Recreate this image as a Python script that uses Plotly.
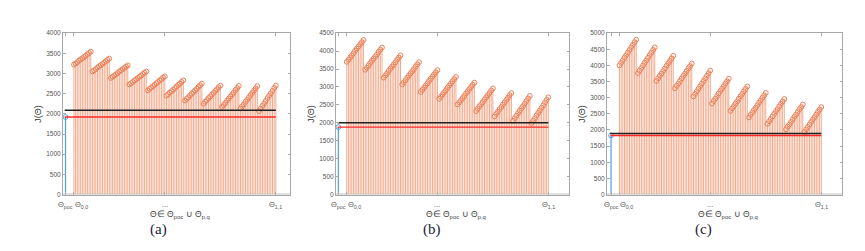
import plotly.graph_objects as go

# ---------------- data ----------------
tick_text = ["Θ<sub>poc</sub>", "Θ<sub>0,0</sub>", "...", "Θ<sub>1,1</sub>"]
panel_labels = ["(a)", "(b)", "(c)"]

j_a = [3220, 3250, 3280, 3320, 3350, 3380, 3410, 3440, 3480, 3510, 3540,
       3050, 3080, 3110, 3150, 3180, 3210, 3240, 3270, 3310, 3340, 3370,
       2890, 2920, 2950, 2980, 3010, 3050, 3080, 3110, 3140, 3170, 3200,
       2730, 2760, 2790, 2830, 2860, 2890, 2920, 2950, 2990, 3020, 3050,
       2580, 2620, 2650, 2690, 2720, 2760, 2790, 2830, 2860, 2900, 2930,
       2450, 2490, 2530, 2560, 2600, 2640, 2680, 2720, 2750, 2790, 2830,
       2330, 2370, 2410, 2460, 2500, 2540, 2580, 2620, 2670, 2710, 2750,
       2250, 2300, 2340, 2390, 2430, 2480, 2520, 2570, 2610, 2660, 2700,
       2170, 2220, 2270, 2330, 2380, 2430, 2480, 2530, 2590, 2640, 2690,
       2130, 2190, 2240, 2300, 2350, 2410, 2470, 2520, 2580, 2630, 2690,
       2070, 2130, 2200, 2260, 2320, 2390, 2450, 2510, 2570, 2640, 2700]
poc_a = 1920
ref_a = 2090
min_a = 1920

j_b = [3700, 3760, 3820, 3880, 3940, 4010, 4070, 4130, 4190, 4250, 4310,
       3480, 3540, 3600, 3670, 3730, 3790, 3850, 3910, 3980, 4040, 4100,
       3260, 3320, 3380, 3450, 3510, 3570, 3630, 3690, 3760, 3820, 3880,
       3070, 3130, 3190, 3260, 3320, 3380, 3440, 3500, 3570, 3630, 3690,
       2860, 2920, 2980, 3040, 3100, 3170, 3230, 3290, 3350, 3410, 3470,
       2670, 2730, 2790, 2850, 2910, 2980, 3040, 3100, 3160, 3220, 3280,
       2510, 2570, 2630, 2690, 2750, 2820, 2880, 2940, 3000, 3060, 3120,
       2330, 2390, 2460, 2520, 2580, 2650, 2710, 2770, 2830, 2900, 2960,
       2180, 2250, 2310, 2380, 2440, 2510, 2570, 2640, 2700, 2770, 2830,
       2060, 2130, 2200, 2270, 2340, 2410, 2470, 2540, 2610, 2680, 2750,
       1990, 2060, 2130, 2210, 2280, 2350, 2420, 2490, 2570, 2640, 2710]
poc_b = 1880
ref_b = 2000
min_b = 1880

j_c = [4000, 4080, 4160, 4240, 4320, 4400, 4480, 4560, 4640, 4720, 4800,
       3760, 3840, 3920, 4000, 4080, 4160, 4240, 4320, 4400, 4480, 4560,
       3520, 3600, 3680, 3750, 3830, 3910, 3990, 4070, 4140, 4220, 4300,
       3290, 3370, 3440, 3520, 3600, 3680, 3750, 3830, 3910, 3980, 4060,
       3040, 3120, 3200, 3280, 3360, 3440, 3520, 3600, 3680, 3760, 3840,
       2820, 2900, 2970, 3050, 3130, 3210, 3280, 3360, 3440, 3510, 3590,
       2590, 2670, 2740, 2820, 2890, 2970, 3050, 3120, 3200, 3270, 3350,
       2390, 2470, 2540, 2620, 2690, 2770, 2850, 2920, 3000, 3070, 3150,
       2190, 2270, 2340, 2420, 2500, 2580, 2650, 2730, 2810, 2880, 2960,
       2020, 2100, 2170, 2250, 2330, 2410, 2480, 2560, 2640, 2710, 2790,
       1940, 2020, 2090, 2170, 2250, 2330, 2400, 2480, 2560, 2630, 2710]
poc_c = 1830
ref_c = 1890
min_c = 1830

y_max = [4000, 4500, 5000]

# ---------------- layout geometry ----------------
W, H = 865, 251
panels = [
    dict(j=j_a, poc=poc_a, ref=ref_a, mn=min_a, px=(63, 290), xr=(-0.5, 134.4)),
    dict(j=j_b, poc=poc_b, ref=ref_b, mn=min_b, px=(336, 569), xr=(-0.4, 138.3)),
    dict(j=j_c, poc=poc_c, ref=ref_c, mn=min_c, px=(607, 842), xr=(-1.4, 138.3)),
]
y_top, y_bot = 30, 196
ydom = [1 - y_bot / H, 1 - y_top / H]

POC_X = 1
FIRST_X = 6
MID_X = 60

STEM = "rgb(243,170,140)"
MARK = "rgb(238,128,88)"
BLUE = "rgb(77,163,222)"
AXC = "#a8a8a8"
TXT = "#555555"

fig = go.Figure()
for k, p in enumerate(panels):
    n = len(p["j"])
    xs = list(range(FIRST_X, FIRST_X + n))
    last_x = xs[-1]
    xa = "x" if k == 0 else f"x{k+1}"
    ya = "y" if k == 0 else f"y{k+1}"
    # stems
    sx, sy = [], []
    for xv, yv in zip(xs, p["j"]):
        sx += [xv, xv, None]
        sy += [0, yv, None]
    fig.add_trace(go.Scatter(x=sx, y=sy, mode="lines", line=dict(color=STEM, width=1),
                             xaxis=xa, yaxis=ya, showlegend=False, hoverinfo="skip"))
    fig.add_trace(go.Scatter(x=xs, y=p["j"], mode="markers",
                             marker=dict(symbol="circle-open", size=4.8, color=MARK, line=dict(width=1)),
                             xaxis=xa, yaxis=ya, showlegend=False))
    # poc stem
    fig.add_trace(go.Scatter(x=[POC_X, POC_X], y=[0, p["poc"]], mode="lines",
                             line=dict(color=BLUE, width=1.2), xaxis=xa, yaxis=ya, showlegend=False))
    fig.add_trace(go.Scatter(x=[POC_X], y=[p["poc"]], mode="markers",
                             marker=dict(symbol="circle-open", size=4.8, color=BLUE, line=dict(width=1)),
                             xaxis=xa, yaxis=ya, showlegend=False))
    # horizontal lines
    fig.add_trace(go.Scatter(x=[POC_X - 0.5, last_x], y=[p["ref"], p["ref"]], mode="lines",
                             line=dict(color="#202020", width=1.4), xaxis=xa, yaxis=ya, showlegend=False))
    fig.add_trace(go.Scatter(x=[POC_X - 0.5, last_x], y=[p["mn"], p["mn"]], mode="lines",
                             line=dict(color="#ff2a2a", width=1.4), xaxis=xa, yaxis=ya, showlegend=False))

    xd = [p["px"][0] / W, p["px"][1] / W]
    axis_common = dict(showline=True, linecolor=AXC, linewidth=1, mirror="allticks",
                       ticks="inside", ticklen=2.5, tickcolor=AXC, showgrid=False,
                       zeroline=False, fixedrange=True)
    fig.update_layout(**{
        ("xaxis" if k == 0 else f"xaxis{k+1}"): dict(
            domain=xd, range=list(p["xr"]), anchor=ya, showticklabels=False,
            tickmode="array", tickvals=[POC_X, FIRST_X, MID_X, last_x], **axis_common),
        ("yaxis" if k == 0 else f"yaxis{k+1}"): dict(
            domain=ydom, range=[0, y_max[k]], anchor=xa,
            tickmode="linear", tick0=0, dtick=500,
            tickfont=dict(family="Liberation Sans, Arial", size=6.5, color=TXT), **axis_common),
    })
    # x tick labels (placed like MATLAB's tex labels)
    label_pos = [(POC_X, "center"), (FIRST_X - 0.6, "left"), (MID_X, "center"), (last_x, "center")]
    for txt, (xv, anc) in zip(tick_text, label_pos):
        fig.add_annotation(text=txt, x=xv, xref=xa, y=1 - 200 / H, yref="paper",
                           xanchor=anc, yanchor="top", showarrow=False,
                           font=dict(family="Liberation Sans, Arial", size=7.5, color=TXT))
    # baseline at zero (MATLAB stem baseline)
    fig.add_shape(type="line", xref=f"{xa} domain", yref=ya, x0=0, x1=1, y0=0, y1=0,
                  line=dict(color="#c4c4c4", width=2))
    cx = (p["px"][0] + p["px"][1]) / 2
    # y title
    fig.add_annotation(text="J(Θ)", x=(p["px"][0] - 25) / W, y=1 - 113 / H, xref="paper", yref="paper",
                       xanchor="center", yanchor="middle", textangle=-90, showarrow=False,
                       font=dict(family="Liberation Sans, Arial", size=9, color="#333333"))
    # x title
    fig.add_annotation(text="Θ∈ Θ<sub>poc</sub> ∪ Θ<sub>p,q</sub>", x=(cx + 3) / W, y=1 - 217 / H,
                       xref="paper", yref="paper", xanchor="center", yanchor="middle", showarrow=False,
                       font=dict(family="Liberation Sans, Arial", size=8.5, color="#444444"))

# captions
for lab, cxp in zip(panel_labels, [158, 432, 703]):
    fig.add_annotation(text=lab, x=cxp / W, y=1 - 232 / H, xref="paper", yref="paper",
                       xanchor="center", yanchor="middle", showarrow=False,
                       font=dict(family="Liberation Serif, Times New Roman", size=15, color="#1c1c3c"))

fig.update_layout(width=W, height=H, margin=dict(l=0, r=0, t=0, b=0),
                  paper_bgcolor="white", plot_bgcolor="white", showlegend=False)

fig.write_html("out.html", config={"displayModeBar": False},
               post_script="document.body.style.margin='0';document.body.style.overflow='hidden';")
